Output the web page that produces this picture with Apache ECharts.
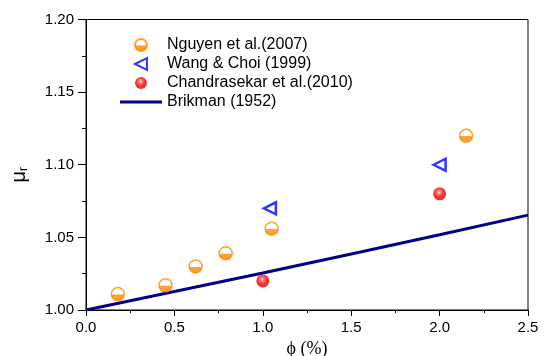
<!DOCTYPE html>
<html>
<head>
<meta charset="utf-8">
<script src="https://cdn.jsdelivr.net/npm/echarts@6/dist/echarts.min.js"></script>
<style>
  html, body { margin: 0; padding: 0; background: #fff; }
  #chart { width: 544px; height: 356px; }
</style>
</head>
<body>
<div id="chart"></div>
<script>
// Relative viscosity vs. volume fraction
const nguyenX = [0.18, 0.45, 0.62, 0.79, 1.05, 2.15];
const nguyenY = [1.011, 1.017, 1.030, 1.039, 1.056, 1.120];
const wangX = [1.04, 2.0];
const wangY = [1.070, 1.100];
const chandraX = [1.0, 2.0];
const chandraY = [1.020, 1.080];
const brikmanX = [0, 0.5, 1.0, 1.5, 2.0, 2.5];
const brikmanY = [1.000, 1.0127, 1.0255, 1.0386, 1.0518, 1.0653];

const seriesNames = ['Nguyen et al.(2007)', 'Wang & Choi (1999)', 'Chandrasekar et al.(2010)', 'Brikman (1952)'];
const xTicks = [0, 0.5, 1.0, 1.5, 2.0, 2.5];
const yTicks = [1.00, 1.05, 1.10, 1.15, 1.20];

const zip = (xs, ys) => xs.map((x, i) => [x, ys[i]]);

const ORANGE = '#ff8a00';
const NAVY = '#00008b';
const halfFill = new echarts.graphic.LinearGradient(0, 0, 0, 1, [
  { offset: 0, color: '#ffffff' },
  { offset: 0.5, color: '#ffffff' },
  { offset: 0.56, color: ORANGE },
  { offset: 1, color: ORANGE }
]);
const ballFill = new echarts.graphic.RadialGradient(0.45, 0.38, 0.62, [
  { offset: 0, color: '#ffffff' },
  { offset: 0.2, color: '#ff6a6a' },
  { offset: 0.55, color: '#ff0000' },
  { offset: 1, color: '#d80000' }
]);

const font = 'Liberation Sans, Arial, sans-serif';

const chart = echarts.init(document.getElementById('chart'), null, { renderer: 'canvas' });
chart.setOption({
  animation: false,
  backgroundColor: '#fff',
  grid: {
    left: 86, right: 16, top: 19.5, bottom: 46,
    outerBoundsMode: 'none', containLabel: false,
    show: true, borderColor: '#000', borderWidth: 1
  },
  legend: {
    orient: 'vertical',
    left: 115,
    top: 32,
    itemWidth: 42,
    itemHeight: 12,
    itemGap: 3,
    symbolKeepAspect: true,
    textStyle: { fontFamily: font, fontSize: 16, color: '#000', lineHeight: 16 },
    data: [
      { name: seriesNames[0] },
      { name: seriesNames[1], icon: 'path://M0,5L10,0L10,10Z' },
      { name: seriesNames[2] },
      { name: seriesNames[3], icon: 'path://M0,0L42,0L42,3L0,3Z' }
    ]
  },
  xAxis: {
    type: 'value',
    min: 0, max: 2.5, interval: 0.5,
    name: 'ϕ (%)',
    nameLocation: 'middle',
    nameGap: 29,
    nameTextStyle: { fontFamily: 'Liberation Serif, Times New Roman, serif', fontSize: 18, color: '#000' },
    axisLine: { show: true, lineStyle: { color: '#000', width: 1 } },
    axisTick: { show: true, inside: false, length: 6, lineStyle: { color: '#000' } },
    minorTick: { show: true, splitNumber: 2, length: 3, lineStyle: { color: '#000' } },
    splitLine: { show: false },
    axisLabel: {
      margin: 10, fontFamily: font, fontSize: 15, color: '#000',
      formatter: v => xTicks.find(t => Math.abs(t - v) < 1e-9).toFixed(1)
    }
  },
  yAxis: {
    type: 'value',
    min: 1.0, max: 1.2, interval: 0.05,
    name: '{m|μ}{s|r}',
    nameLocation: 'middle',
    nameGap: 56,
    nameTextStyle: {
      padding: [0, 20, 0, 0],
      rich: {
        m: { fontFamily: font, fontSize: 20, color: '#000' },
        s: { fontFamily: font, fontSize: 12, color: '#000', verticalAlign: 'bottom', padding: [10, 0, 0, 0] }
      }
    },
    axisLine: { show: true, lineStyle: { color: '#000', width: 1 } },
    axisTick: { show: true, inside: false, length: 8, lineStyle: { color: '#000' } },
    minorTick: { show: true, splitNumber: 2, length: 4, lineStyle: { color: '#000' } },
    splitLine: { show: false },
    axisLabel: {
      margin: 12, fontFamily: font, fontSize: 15, color: '#000',
      formatter: v => yTicks.find(t => Math.abs(t - v) < 1e-9).toFixed(2)
    }
  },
  series: [
    {
      name: seriesNames[0],
      type: 'scatter',
      symbol: 'circle',
      symbolSize: 13,
      itemStyle: { color: halfFill, borderColor: ORANGE, borderWidth: 1.5 },
      data: zip(nguyenX, nguyenY),
      z: 3
    },
    {
      name: seriesNames[1],
      type: 'scatter',
      symbol: 'triangle',
      symbolRotate: 90,
      symbolSize: 12,
      itemStyle: { color: '#ffffff', borderColor: '#0000ff', borderWidth: 2.5 },
      data: zip(wangX, wangY),
      z: 3
    },
    {
      name: seriesNames[2],
      type: 'scatter',
      symbol: 'circle',
      symbolSize: 13,
      itemStyle: { color: ballFill },
      data: zip(chandraX, chandraY),
      z: 3
    },
    {
      name: seriesNames[3],
      type: 'line',
      showSymbol: false,
      symbol: 'none',
      lineStyle: { color: NAVY, width: 3 },
      itemStyle: { color: NAVY },
      data: zip(brikmanX, brikmanY),
      z: 2
    }
  ]
});
</script>
</body>
</html>
